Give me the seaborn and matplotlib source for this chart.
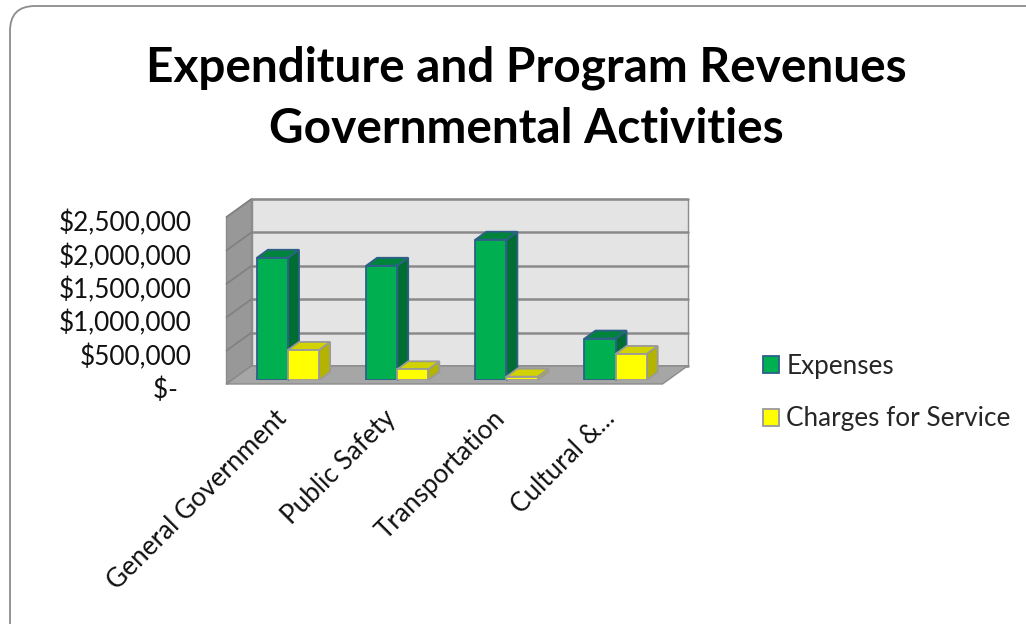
import numpy as np
import pandas as pd
import matplotlib
matplotlib.use("Agg")
import matplotlib.pyplot as plt
import seaborn as sns
from matplotlib.patches import Polygon, FancyBboxPatch, Rectangle
from matplotlib.transforms import ScaledTranslation
from matplotlib.ticker import FuncFormatter

# ---- data -------------------------------------------------------------
categories = ["General Government", "Public Safety", "Transportation", "Cultural &..."]
series_names = ["Expenses", "Charges for Service"]
expenses = [1830000, 1710000, 2100000, 620000]
charges = [450000, 160000, 50000, 390000]
y_ticks = [0, 500000, 1000000, 1500000, 2000000, 2500000]
title_lines = ["Expenditure and Program Revenues", "Governmental Activities"]

df = pd.DataFrame({
    "Category": categories * 2,
    "Series": [series_names[0]] * len(categories) + [series_names[1]] * len(categories),
    "Amount": expenses + charges,
})

# ---- style ------------------------------------------------------------
sns.set_theme(style="white")
plt.rcParams["font.family"] = ["Lato", "DejaVu Sans"]

front = {"Expenses": "#00b050", "Charges for Service": "#ffff00"}
top_c = {"Expenses": "#00843c", "Charges for Service": "#d2d200"}
side_c = {"Expenses": "#006e32", "Charges for Service": "#b4b400"}
edge_c = {"Expenses": "#2f5f8a", "Charges for Service": "#9a9a9a"}
LABEL_SIZE = 18.8

W, H = 1026, 624
fig = plt.figure(figsize=(W / 100, H / 100), dpi=100)
fig.patch.set_facecolor("white")

# front plane of the columns
ax = fig.add_axes([232 / W, 1 - 380 / H, 436 / W, 167 / H])
sns.barplot(data=df, x="Category", y="Amount", hue="Series", palette=front,
            width=0.57, gap=0, saturation=1, legend=False, ax=ax)
ax.set_xlim(-0.513, 3.48)
ax.set_ylim(0, y_ticks[-1])
ax.patch.set_visible(False)
for s in ax.spines.values():
    s.set_visible(False)
ax.set_xlabel("")
ax.set_ylabel("")

# depth offsets in pixels (right, up) relative to the column front plane
FRONT = (-5.5, -4.0)
BACK = (19.5, 14.0)
BAR = (11.0, 8.0)


def P(x, y, off=(0.0, 0.0)):
    d = ax.transData.transform((x, y))
    return ((d[0] + off[0]) / W, (d[1] + off[1]) / H)


def poly(pts, fc, ec="none", lw=0.0, z=0.5):
    p = Polygon(pts, closed=True, facecolor=fc, edgecolor=ec, linewidth=lw,
                transform=fig.transFigure, zorder=z, clip_on=False)
    ax.add_artist(p)
    return p


def line(p0, p1, color, lw, z=0.6):
    ln = plt.Line2D([p0[0], p1[0]], [p0[1], p1[1]], color=color, lw=lw,
                    transform=fig.transFigure, zorder=z, clip_on=False)
    ax.add_artist(ln)


x0, x1 = ax.get_xlim()
ymax = y_ticks[-1]

# back wall, side wall and floor
poly([P(x0, 0, BACK), P(x1, 0, BACK), P(x1, ymax, BACK), P(x0, ymax, BACK)],
     "#e4e4e4", "#8c8c8c", 1.0, z=0.2)
poly([P(x0, 0, FRONT), P(x0, 0, BACK), P(x0, ymax, BACK), P(x0, ymax, FRONT)],
     "#989898", "#8c8c8c", 1.0, z=0.2)
for t in y_ticks:
    line(P(x0, t, BACK), P(x1, t, BACK), "#8a8a8a", 1.8, z=0.3)
    line(P(x0, t, FRONT), P(x0, t, BACK), "#808080", 1.2, z=0.3)
poly([P(x0, 0, FRONT), P(x1, 0, FRONT), P(x1, 0, BACK), P(x0, 0, BACK)],
     "#a6a6a6", "#8c8c8c", 1.0, z=0.4)

# extruded columns: side and top faces follow each seaborn bar
bars = sorted([p for p in ax.patches if isinstance(p, Rectangle) and p.get_height() > 0],
              key=lambda r: r.get_x())
for k, r in enumerate(bars):
    fc = matplotlib.colors.to_hex(r.get_facecolor())
    name = "Expenses" if fc == front["Expenses"] else "Charges for Service"
    x, w, h = r.get_x(), r.get_width(), r.get_height()
    z = 1.0 + 0.01 * k
    r.set_edgecolor(edge_c[name])
    r.set_linewidth(1.3)
    r.set_zorder(z + 0.005)
    poly([P(x + w, 0), P(x + w, 0, BAR), P(x + w, h, BAR), P(x + w, h)],
         side_c[name], edge_c[name], 1.3, z=z)
    poly([P(x, h), P(x + w, h), P(x + w, h, BAR), P(x, h, BAR)],
         top_c[name], edge_c[name], 1.3, z=z)

# ---- axes text --------------------------------------------------------
ax.set_yticks(y_ticks)
ax.yaxis.set_major_formatter(FuncFormatter(
    lambda v, _: "$-  " if v == 0 else f"${v:,.0f}"))
ax.tick_params(axis="y", length=0, pad=29, labelsize=LABEL_SIZE, labelcolor="#111111")
ax.tick_params(axis="x", length=0, pad=25, labelsize=LABEL_SIZE, labelcolor="#111111")
yshift = ScaledTranslation(0, -0.08, fig.dpi_scale_trans)
for lab in ax.get_yticklabels():
    lab.set_transform(lab.get_transform() + yshift)
xshift = ScaledTranslation(-0.05, 0, fig.dpi_scale_trans)
for lab in ax.get_xticklabels():
    lab.set_rotation(45)
    lab.set_ha("right")
    lab.set_va("center")
    lab.set_rotation_mode("anchor")
    lab.set_transform(lab.get_transform() + xshift)

# ---- legend -----------------------------------------------------------
handles = [Rectangle((0, 0), 1, 1, facecolor=front[s], edgecolor=edge_c[s], linewidth=1.3)
           for s in series_names]
fig.legend(handles, series_names, loc="upper left",
           bbox_to_anchor=(763 / W, 1 - 354 / H), frameon=False, fontsize=LABEL_SIZE,
           handlelength=0.62, handleheight=0.62, handletextpad=0.28,
           labelspacing=1.05, borderpad=0, borderaxespad=0)

# ---- title ------------------------------------------------------------
fig.text(526 / W, 1 - 68 / H, title_lines[0], ha="center", va="center",
         fontsize=34.4, fontweight="bold", color="black")
fig.text(526 / W, 1 - 129 / H, title_lines[1], ha="center", va="center",
         fontsize=34.4, fontweight="bold", color="black")

# ---- chart border -----------------------------------------------------
frame = FancyBboxPatch((0.10, -0.5), 10.6, 6.18 + 0.5,
                       boxstyle="round,pad=0,rounding_size=0.25",
                       transform=fig.dpi_scale_trans, facecolor="none",
                       edgecolor="#8c8c8c", linewidth=1.3, zorder=0.1)
fig.add_artist(frame)

fig.savefig("out.png", dpi=100, facecolor="white")
